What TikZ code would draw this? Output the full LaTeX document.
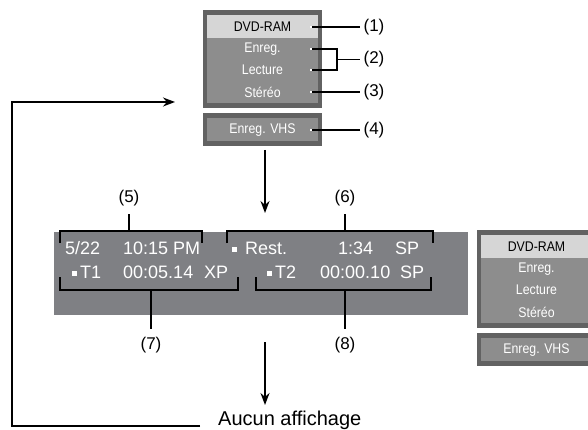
\documentclass[tikz,border=0pt]{standalone}
\usepackage{fontspec}
\setmainfont{Liberation Sans}
\newfontfamily\menufont[FakeStretch=0.88]{Liberation Sans}
\usetikzlibrary{arrows.meta, calc}
\definecolor{framegray}{HTML}{626262}
\definecolor{menugray}{HTML}{8D8D8D}
\definecolor{selgray}{HTML}{D6D6D6}
\definecolor{lcdgray}{HTML}{7F8084}
\tikzset{
	menutxt/.style={font=\menufont\fontsize{14}{16}\selectfont, text=white, inner sep=1pt},
	lcdtxt/.style={font=\fontsize{18}{20}\selectfont, text=white, anchor=base west, inner sep=0pt},
	numtxt/.style={font=\fontsize{17}{19}\selectfont, inner sep=3pt},
	lead/.style={line width=1.6pt},
	halo/.style={white, line width=2.8pt},
	brk/.style={line width=1.4pt},
	arr/.style={line width=1.6pt, -{Stealth[length=12pt, width=9pt]}},
}

\begin{document}
\begin{tikzpicture}[x=1pt, y=-1pt]
		\useasboundingbox (0,0) rectangle (588,430);
		% menu boxes (main one and the small copy on the right)
		\foreach \sx/\sy/\tag in {0/0/A, 274/220/B}{
			\begin{scope}[shift={(\sx,\sy)}]
				\fill[framegray] (203,10) rectangle (322,108);
				\fill[menugray] (207,15) rectangle (318,103);
				\fill[selgray] (207,15) rectangle (318,38);
				\node[menutxt, text=black] (dvd\tag) at (262.5,27) {DVD-RAM};
				\node[menutxt] (enreg\tag) at (262.5,49) {Enreg.};
				\node[menutxt] (lect\tag) at (262.5,70) {Lecture};
				\node[menutxt] (stereo\tag) at (262.5,92) {Stéréo};
				\fill[framegray] (203,113) rectangle (322,146);
				\fill[menugray] (207,118) rectangle (318,141);
				\node[menutxt] (vhs\tag) at (262.5,130) {Enreg. VHS};
			\end{scope}
		}
		% leaders (1) (3) (4)
		\foreach \y/\n in {27/1, 92/3, 130/4}{
			\node[numtxt] (n\n) at (374,\y) {(\n)};
			\coordinate (d\n) at (310,\y);
			\draw[halo] (d\n) -- ++(5,0);
			\draw[lead] ($(d\n)+(2,0)$) -- (n\n);
		}
		% leader (2)
		\node[numtxt] (n2) at (374,59.5) {(2)};
		\coordinate (d2a) at (310,49);
		\coordinate (d2b) at (310,70);
		\draw[halo] (d2a) -- ++(5,0);
		\draw[halo] (d2b) -- ++(5,0);
		\draw[lead] ($(d2a)+(2,0)$) -| (337,70) -- ($(d2b)+(2,0)$);
		\draw[lead] (337,59.5) -- (n2);
		% arrow to the display
		\coordinate (a1s) at (265,150);
		\coordinate (a1e) at (265,213);
		\draw[arr] (a1s) -- (a1e);
		% display
		\fill[lcdgray] (54,232) rectangle (468,315);
		\node[lcdtxt] (date) at (65,254) {5/22};
		\node[lcdtxt] (clock) at (123,254) {10:15 PM};
		\fill[white] (232,247) rectangle (237,252);
		\node[lcdtxt] (rest) at (245,254) {Rest.};
		\node[lcdtxt] (resttime) at (338,254) {1:34};
		\node[lcdtxt] (restmode) at (395,254) {SP};
		\fill[white] (72,271) rectangle (77,276);
		\node[lcdtxt] (tone) at (80,278) {T1};
		\node[lcdtxt] (tonetime) at (123,278) {00:05.14};
		\node[lcdtxt] (tonemode) at (204,278) {XP};
		\fill[white] (267,271) rectangle (272,276);
		\node[lcdtxt] (ttwo) at (275,278) {T2};
		\node[lcdtxt] (ttwotime) at (320,278) {00:00.10};
		\node[lcdtxt] (ttwomode) at (400,278) {SP};
		% brackets (5) to (8)
		\draw[brk] (60,243) -- (60,231) -- (202,231) -- (202,243);
		\draw[brk] (227,243) -- (227,231) -- (433,231) -- (433,243);
		\draw[brk] (60,277) -- (60,290) -- (238,290) -- (238,277);
		\draw[brk] (256,277) -- (256,290) -- (431,290) -- (431,277);
		\coordinate (b5) at (129,231);
		\coordinate (b6) at (345,231);
		\coordinate (b7) at (151,290);
		\coordinate (b8) at (345,290);
		\node[numtxt] (n5) at (129,198) {(5)};
		\node[numtxt] (n6) at (345,198) {(6)};
		\node[numtxt] (n7) at (151,345) {(7)};
		\node[numtxt] (n8) at (345,345) {(8)};
		\foreach \n in {5,6,7,8}{
			\draw[brk, shorten >=5pt] (b\n) -- (n\n);
		}
		% arrow to no display, and return
		\coordinate (a2s) at (265,342);
		\coordinate (a2e) at (265,405);
		\draw[arr] (a2s) -- (a2e);
		\node[font=\fontsize{20}{22}\selectfont, anchor=base west, inner sep=0pt] (aucun) at (218,425) {Aucun affichage};
		\coordinate (ret0) at (200,426);
		\coordinate (corner) at (12,102);
		\coordinate (ret1) at (175,102);
		\draw[arr] (ret0) -| (corner) -- (ret1);
	\end{tikzpicture}
\end{document}
